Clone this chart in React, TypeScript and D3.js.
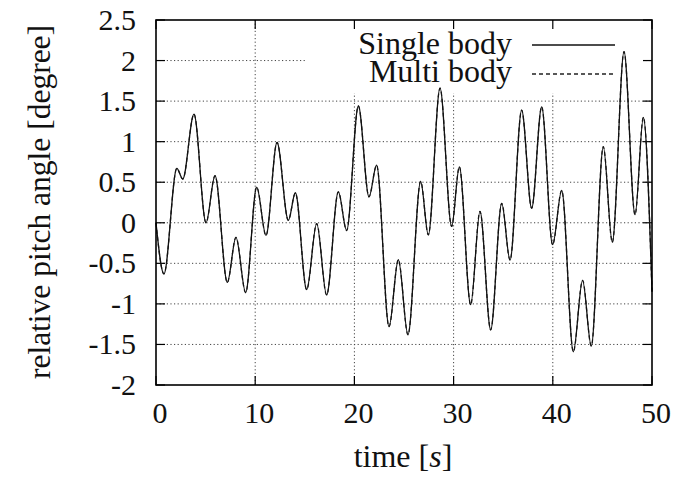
import React from "react";
import * as d3 from "d3";

const xTicks = [0, 10, 20, 30, 40, 50];
const yTicks = [-2, -1.5, -1, -0.5, 0, 0.5, 1, 1.5, 2, 2.5];
const yTickLabels = ["-2", "-1.5", "-1", "-0.5", "0", "0.5", "1", "1.5", "2", "2.5"];

const singleTime = [0, 0.8, 2.1, 2.7, 3.83, 5.04, 5.95, 7.19, 8.06, 9.04, 10.15, 11.09, 12.2, 13.34, 14.05, 15.19, 16.2, 17.2, 18.38, 19.22, 20.4, 21.47, 22.24, 23.49, 24.43, 25.4, 26.68, 27.45, 28.63, 29.8, 30.58, 31.72, 32.66, 33.74, 34.85, 35.69, 36.86, 37.87, 38.88, 39.98, 40.9, 42.07, 43.0, 43.88, 45.09, 46.0, 47.18, 48.29, 49.13, 50];
const singleValue = [0, -0.63, 0.67, 0.54, 1.34, 0.0, 0.58, -0.735, -0.18, -0.86, 0.44, -0.156, 0.99, 0.03, 0.37, -0.825, -0.01, -0.89, 0.38, -0.095, 1.44, 0.32, 0.71, -1.28, -0.456, -1.38, 0.51, -0.15, 1.66, -0.045, 0.69, -1.01, 0.14, -1.32, 0.24, -0.46, 1.39, 0.18, 1.43, -0.27, 0.4, -1.59, -0.71, -1.52, 0.94, -0.24, 2.11, 0.1, 1.3, -0.85];

const multiTime = [0, 0.8, 2.1, 2.7, 3.83, 5.04, 5.95, 7.19, 8.06, 9.04, 10.15, 11.09, 12.2, 13.34, 14.05, 15.19, 16.2, 17.2, 18.38, 19.22, 20.4, 21.47, 22.24, 23.49, 24.43, 25.4, 26.68, 27.45, 28.63, 29.8, 30.58, 31.72, 32.66, 33.74, 34.85, 35.69, 36.86, 37.87, 38.88, 39.98, 40.9, 42.07, 43.0, 43.88, 45.09, 46.0, 47.18, 48.29, 49.13, 50];
const multiValue = [0, -0.63, 0.67, 0.54, 1.34, 0.0, 0.58, -0.735, -0.18, -0.86, 0.44, -0.156, 0.99, 0.03, 0.37, -0.825, -0.01, -0.89, 0.38, -0.095, 1.44, 0.32, 0.71, -1.28, -0.456, -1.38, 0.51, -0.15, 1.66, -0.045, 0.69, -1.01, 0.14, -1.32, 0.24, -0.46, 1.39, 0.18, 1.43, -0.27, 0.4, -1.59, -0.71, -1.52, 0.94, -0.24, 2.11, 0.1, 1.3, -0.85];

const seriesNames = ["Single body", "Multi body"];

const W = 673;
const H = 477;
const L = 156, R = 652, T = 20, B = 385;
const FONT = "Liberation Serif";

export default function App() {
  const x = d3.scaleLinear().domain([0, 50]).range([L, R]);
  const y = d3.scaleLinear().domain([-2, 2.5]).range([B, T]);
  const line = d3
    .line<[number, number]>()
    .x((d) => x(d[0]))
    .y((d) => y(d[1]))
    .curve(d3.curveMonotoneX);
  const single = line(singleTime.map((t, i) => [t, singleValue[i]] as [number, number])) || "";
  const multi = line(multiTime.map((t, i) => [t, multiValue[i]] as [number, number])) || "";
  const tickLen = 9;
  const gridStyle = { stroke: "#444", strokeWidth: 1, strokeDasharray: "1.2,2.4" };
  const textProps = { fontFamily: FONT, fill: "#111", style: { fontFamily: FONT } };

  return (
    <svg width={W} height={H} style={{ position: "absolute", left: 0, top: 0, background: "#fff" }}>
      <rect x={0} y={0} width={W} height={H} fill="#fff" />
      {yTicks.slice(1, -1).map((v) => (
        <line key={"gy" + v} x1={L} x2={R} y1={y(v)} y2={y(v)} {...gridStyle} />
      ))}
      {xTicks.slice(1, -1).map((v) => (
        <line key={"gx" + v} x1={x(v)} x2={x(v)} y1={T} y2={B} {...gridStyle} />
      ))}
      <rect x={305} y={T + 1} width={338} height={72} fill="#fff" />
      {yTicks.map((v) => (
        <g key={"ty" + v}>
          <line x1={L} x2={L + tickLen} y1={y(v)} y2={y(v)} stroke="#000" strokeWidth={1.2} />
          <line x1={R} x2={R - tickLen} y1={y(v)} y2={y(v)} stroke="#000" strokeWidth={1.2} />
        </g>
      ))}
      {xTicks.map((v) => (
        <g key={"tx" + v}>
          <line x1={x(v)} x2={x(v)} y1={B} y2={B - tickLen} stroke="#000" strokeWidth={1.2} />
          <line x1={x(v)} x2={x(v)} y1={T} y2={T + tickLen} stroke="#000" strokeWidth={1.2} />
        </g>
      ))}
      <path d={multi} fill="none" stroke="#222" strokeWidth={1.3} strokeDasharray="4,3" />
      <path d={single} fill="none" stroke="#111" strokeWidth={1.3} />
      <rect x={L} y={T} width={R - L} height={B - T} fill="none" stroke="#000" strokeWidth={1.6} />
      {yTicks.map((v, i) => (
        <text key={"ly" + v} x={136} y={y(v) + 10} textAnchor="end" fontSize={30} {...textProps}>
          {yTickLabels[i]}
        </text>
      ))}
      {xTicks.map((v) => (
        <text key={"lx" + v} x={x(v) + 4} y={423} textAnchor="middle" fontSize={30} {...textProps}>
          {String(v)}
        </text>
      ))}
      <text x={403} y={467} textAnchor="middle" fontSize={32} {...textProps}>
        time [<tspan fontStyle="italic">s</tspan>]
      </text>
      <text transform={`translate(50,202) rotate(-90)`} textAnchor="middle" fontSize={31.5} {...textProps}>
        relative pitch angle [degree]
      </text>
      <text x={512} y={54} textAnchor="end" fontSize={32} {...textProps}>
        {seriesNames[0]}
      </text>
      <line x1={532} x2={615} y1={45} y2={45} stroke="#111" strokeWidth={1.3} />
      <text x={512} y={82} textAnchor="end" fontSize={32} {...textProps}>
        {seriesNames[1]}
      </text>
      <line x1={532} x2={615} y1={74} y2={74} stroke="#222" strokeWidth={1.3} strokeDasharray="4,3" />
    </svg>
  );
}
